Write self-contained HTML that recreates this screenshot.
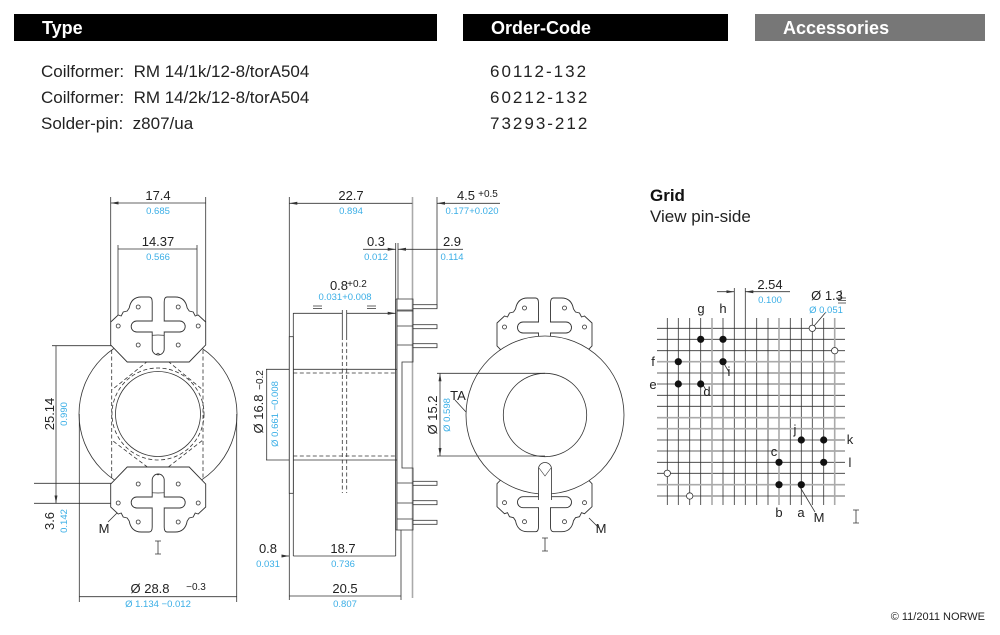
<!DOCTYPE html>
<html><head><meta charset="utf-8"><style>
html,body{margin:0;padding:0;background:#fff}
body{width:1000px;height:635px;position:relative;overflow:hidden;font-family:"Liberation Sans",sans-serif}
.bar{position:absolute;top:14px;height:27px;background:#000;color:#fff;font-weight:bold;font-size:18px;line-height:29px;padding-left:28px;box-sizing:border-box}
.row{position:absolute;font-size:17px;color:#222}
</style></head><body>
<div class="bar" style="left:14px;width:423px">Type</div>
<div class="bar" style="left:463px;width:265px">Order-Code</div>
<div class="bar" style="left:755px;width:230px;background:#777">Accessories</div>
<div class="row" style="left:41px;top:62px">Coilformer:&nbsp; RM 14/1k/12-8/torA504</div>
<div class="row" style="left:41px;top:88px">Coilformer:&nbsp; RM 14/2k/12-8/torA504</div>
<div class="row" style="left:41px;top:114px">Solder-pin:&nbsp; z807/ua</div>
<div class="row" style="left:490px;top:62px;letter-spacing:2px">60112-132</div>
<div class="row" style="left:490px;top:88px;letter-spacing:2px">60212-132</div>
<div class="row" style="left:490px;top:114px;letter-spacing:2px">73293-212</div>
<svg width="1000" height="635" style="position:absolute;left:0;top:0" xmlns="http://www.w3.org/2000/svg">
<defs>
<marker id="a" markerWidth="8" markerHeight="6" refX="8" refY="3" orient="auto-start-reverse" markerUnits="userSpaceOnUse"><path d="M0,1.5 L8,3 L0,4.5 Z" fill="#333"/></marker>
<g id="plate">
<path d="M-47.5,25 L-40,18 L-37,19 L-35,15 L-31,14 L-29,11 Q-27,0 -17,0 L-9,0 Q-6,0 -6,5 L-6,52 A6 6 0 0 0 6,52 L6,5 Q6,0 9,0 L17,0 Q27,0 29,11 L31,14 L35,15 L37,19 L40,18 L47.5,25 L47.5,48 L31,65 L-31,65 L-47.5,48 Z" fill="#fff" stroke="#333" stroke-width="0.9"/>
<rect x="-27" y="24" width="54" height="11" rx="5.5" fill="#fff" stroke="#333" stroke-width="0.9"/>
<path d="M-5.5,24 L5.5,24 M-5.5,35 L5.5,35" stroke="#fff" stroke-width="2"/>
<g fill="#fff" stroke="#333" stroke-width="0.8"><circle cx="-40" cy="29" r="2"/><circle cx="40" cy="29" r="2"/><circle cx="-20" cy="10" r="2"/><circle cx="20" cy="10" r="2"/><circle cx="-20" cy="48" r="2"/><circle cx="20" cy="48" r="2"/></g>
</g>
</defs>
<g font-family="Liberation Sans,sans-serif" stroke="none">
<!-- LEFT VIEW -->
<g stroke="#333" stroke-width="0.8" fill="none">
<circle cx="158" cy="414" r="79"/>
<circle cx="158" cy="414" r="42.5"/>
<g stroke-dasharray="4,2.5"><circle cx="158" cy="414" r="46"/><path d="M111.7,350 V480 M203,350 V480 M158,353 L111.7,390 M158,353 L203,390 M158,475 L111.7,440 M158,475 L203,440"/></g>
<path d="M110.7,197 V322 M205.7,197 V322 M118,245 V327 M197,245 V327 M79.3,414 V602 M236.7,414 V602 M52,345.7 H138 M34,483.3 H138 M34,503.3 H118"/>
<path d="M110.7,203 H205.7 M118,249 H197 M79.3,596.7 H236.7 M56,345.7 V483.3 M56,483.3 V503.3" marker-start="url(#a)" marker-end="url(#a)"/>
<path d="M158,541 V554 M155,541 H161 M155,554 H161 M108,522 L118,512"/>
</g>
<use href="#plate" transform="translate(158.2,297)"/>
<use href="#plate" transform="translate(158.2,532) scale(1,-1)"/>
<g fill="#222" font-size="13" text-anchor="middle">
<text x="158" y="200">17.4</text><text x="158" y="246">14.37</text>
<text x="150" y="593">Ø 28.8</text><text x="196" y="590" font-size="10">−0.3</text>
<text x="104" y="533">M</text>
<text transform="translate(54,414) rotate(-90)">25.14</text>
<text transform="translate(54,521) rotate(-90)">3.6</text>
</g>
<g fill="#3aaee6" font-size="9.5" text-anchor="middle">
<text x="158" y="214">0.685</text><text x="158" y="260">0.566</text>
<text x="158" y="607">Ø 1.134 −0.012</text>
<text transform="translate(67,414) rotate(-90)">0.990</text>
<text transform="translate(67,521) rotate(-90)">0.142</text>
</g>
<!-- MIDDLE VIEW -->
<g stroke="#333" stroke-width="0.8" fill="none">
<path d="M289.3,197 V600 M437,197 V308 M293.3,313 V556 M395.7,243 V556 M398,243 V299 M401,530 V600 M266,369.3 H397 M266,460 H397"/>
<path d="M412.5,197 V598" stroke="#aaa" stroke-width="1.6"/>
<rect x="289.3" y="336.7" width="4" height="156.6" fill="#fff"/>
<path d="M395.7,299 V530 M395.7,299 H413 V362 H402 V468 H413 V530 H395.7 M397,299 V530"/>
<path d="M397,310 H413 M397,311 H413 M397,326 H413 M397,345 H413 M397,483 H413 M397,503 H413 M397,519 H413"/>
<g fill="#fff"><rect x="413" y="304.7" width="24" height="4"/><rect x="413" y="324.7" width="24" height="4"/><rect x="413" y="343.7" width="24" height="4"/><rect x="413" y="481.3" width="24" height="4"/><rect x="413" y="500.7" width="24" height="4"/><rect x="413" y="520.3" width="24" height="4"/></g>
<path d="M293.3,373 H397 M293.3,456 H397 M342.3,336 V493 M346.7,336 V493" stroke-dasharray="4,2.5"/>
<path d="M342.3,310 V336 M346.7,310 V336"/>
<path d="M289.3,203.3 H412.3 M266.7,369.3 V460 M293.3,556 H395.7 M289.3,596 H401 M293.3,313.3 H342.3 M346.7,313.3 H395.7" marker-start="url(#a)" marker-end="url(#a)"/>
<path d="M282,556 H289.3" marker-end="url(#a)"/>
<path d="M500,203.3 H437" marker-end="url(#a)"/>
<path d="M363,249.3 H395.7" marker-end="url(#a)"/>
<path d="M463,249.3 H398" marker-end="url(#a)"/>
<path d="M313,306 H322 M313,308.5 H322 M367,306 H376 M367,308.5 H376"/>
</g>
<g fill="#222" font-size="13" text-anchor="middle">
<text x="351" y="200">22.7</text><text x="466" y="200">4.5</text><text x="488" y="197" font-size="10">+0.5</text>
<text x="376" y="246">0.3</text><text x="452" y="246">2.9</text>
<text x="339" y="290">0.8</text><text x="357" y="287" font-size="10">+0.2</text>
<text x="268" y="553">0.8</text><text x="343" y="553">18.7</text><text x="345" y="593">20.5</text>
<text transform="translate(263,414) rotate(-90)">Ø 16.8</text><text transform="translate(263,380) rotate(-90)" font-size="10">−0.2</text>
</g>
<g fill="#3aaee6" font-size="9.5" text-anchor="middle">
<text x="351" y="214">0.894</text><text x="472" y="214">0.177+0.020</text>
<text x="376" y="260">0.012</text><text x="452" y="260">0.114</text>
<text x="345" y="300">0.031+0.008</text>
<text x="268" y="567">0.031</text><text x="343" y="567">0.736</text><text x="345" y="607">0.807</text>
<text transform="translate(278,414) rotate(-90)">Ø 0.661 −0.008</text>
</g>
<!-- RIGHT VIEW -->
<use href="#plate" transform="translate(544.5,298)"/>
<use href="#plate" transform="translate(544.5,531.7) scale(1,-1)"/>
<g stroke="#333" stroke-width="0.8" fill="none">
<circle cx="545" cy="415" r="79" fill="#fff"/>
<circle cx="545" cy="415" r="41.7"/>
<path d="M437,373.3 H545 M437,456 H545 M455,400 L466,412 M545,538 V551 M542,538 H548 M542,551 H548 M589,518 L599,528"/>
<path d="M440,373.3 V456" marker-start="url(#a)" marker-end="url(#a)"/>
</g>
<path d="M538.5,500 V469 A6.5 6.5 0 0 1 551.5,469 V500" fill="#fff" stroke="#333" stroke-width="0.8"/>
<path d="M539,468 L545,476 L551,468" fill="none" stroke="#333" stroke-width="0.6"/>
<g fill="#222" font-size="13" text-anchor="middle">
<text transform="translate(437,415) rotate(-90)">Ø 15.2</text>
<text x="458" y="400">TA</text><text x="601" y="533">M</text>
</g>
<g fill="#3aaee6" font-size="9.5" text-anchor="middle"><text transform="translate(450,415) rotate(-90)">Ø 0.598</text></g>
<!-- GRID -->
<text x="650" y="201" font-size="17" font-weight="bold" fill="#111">Grid</text>
<text x="650" y="222" font-size="17" fill="#222">View pin-side</text>
<g stroke="#333" stroke-width="0.8">
<path d="M667.3,318V505M678.3,318V505M689.7,318V505M700.7,318V505M723,318V505M734.3,288V505M745.3,288V505M756.7,318V505M768,318V505M790.3,318V505M801.3,318V505M812.3,318V505M823.7,318V505"/>
<path d="M657,328.3H845M657,339.3H845M657,350.7H845M657,373H845M657,384H845M657,395.3H845M657,406.3H845M657,440H845M657,451H845M657,462.3H845M657,473.3H845M657,496H845"/>
<path d="M717,291.7H734.3" marker-end="url(#a)"/><path d="M790,291.7H745.3" marker-end="url(#a)"/>
<path d="M814,326 L826,312 M800,487 L815,512 M729,372 L723,362 M703,385 L706,390"/>
<path d="M856,510V523M853,510H859M853,523H859 M841,290V298 M838,298H846 M838,300.5H846 M838,303H846"/>
</g>
<g stroke="#aaa" stroke-width="1.6"><path d="M712,318V505M779,318V505M834.7,318V505M657,361.7H845M657,417.7H845M657,428.7H845M657,484.7H845"/></g>
<g fill="#111"><circle cx="700.7" cy="339.3" r="3.6"/><circle cx="723" cy="339.3" r="3.6"/><circle cx="678.3" cy="361.7" r="3.6"/><circle cx="723" cy="361.7" r="3.6"/><circle cx="678.3" cy="384" r="3.6"/><circle cx="700.7" cy="384" r="3.6"/><circle cx="801.3" cy="440" r="3.6"/><circle cx="823.7" cy="440" r="3.6"/><circle cx="779" cy="462.3" r="3.6"/><circle cx="823.7" cy="462.3" r="3.6"/><circle cx="779" cy="484.7" r="3.6"/><circle cx="801.3" cy="484.7" r="3.6"/></g>
<g fill="#fff" stroke="#333" stroke-width="0.8"><circle cx="812.3" cy="328.3" r="3.2"/><circle cx="834.7" cy="350.7" r="3.2"/><circle cx="667.3" cy="473.3" r="3.2"/><circle cx="689.7" cy="496" r="3.2"/></g>
<g fill="#222" font-size="13" text-anchor="middle">
<text x="770" y="289">2.54</text><text x="827" y="300">Ø 1.3</text>
<text x="701" y="313">g</text><text x="723" y="313">h</text><text x="653" y="366">f</text><text x="653" y="389">e</text>
<text x="729" y="376">i</text><text x="707" y="396">d</text><text x="795" y="434">j</text><text x="850" y="444">k</text>
<text x="774" y="456">c</text><text x="850" y="467">l</text><text x="779" y="517">b</text><text x="801" y="517">a</text><text x="819" y="522">M</text>
</g>
<g fill="#3aaee6" font-size="9.5" text-anchor="middle"><text x="770" y="303">0.100</text><text x="826" y="313">Ø 0.051</text></g>
<text x="985" y="620" font-size="11" text-anchor="end" fill="#222">© 11/2011 NORWE</text>
</g>
</svg>
</body></html>
